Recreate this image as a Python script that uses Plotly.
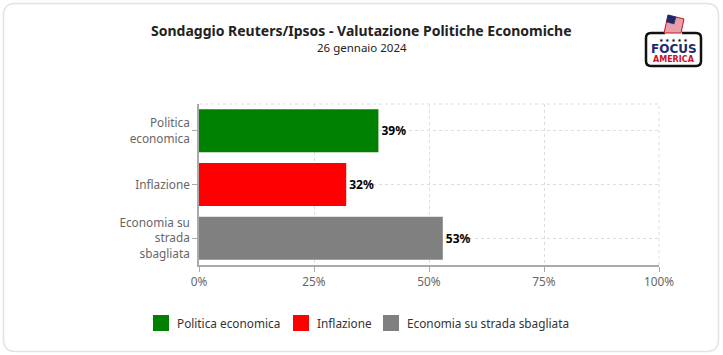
import plotly.graph_objects as go

categories = ["Politica economica", "Inflazione", "Economia su strada sbagliata"]
tick_labels = ["Politica<br>economica", "Inflazione", "Economia su<br>strada<br>sbagliata"]
values = [39, 32, 53]
colors = ["#008000", "#ff0000", "#808080"]
x_ticks = [0, 25, 50, 75, 100]
x_tick_text = ["0%", "25%", "50%", "75%", "100%"]

W, H = 723, 355
L, R, T, B = 199, 64, 104, 90
PW, PH = W - L - R, H - T - B


def px(x):
    return (x - L) / PW


def py(y):
    return (H - B - y) / PH


FONT = "Noto Sans"

fig = go.Figure()
for cat, lab, v, c in zip(categories, tick_labels, values, colors):
    fig.add_trace(go.Bar(
        x=[v], y=[lab], name=cat, orientation="h",
        marker=dict(color=c, line=dict(width=0)),
        text=[f"{v}%"], textposition="outside",
        textfont=dict(family=FONT, size=12, color="#000000", weight="bold"),
        cliponaxis=False, showlegend=False,
    ))

shapes = []
# card
x0, y0, x1, y1, r = 3.5, 3.5, 718.5, 351.5, 12
path = (f"M{px(x0 + r)},{py(y0)} L{px(x1 - r)},{py(y0)} Q{px(x1)},{py(y0)} {px(x1)},{py(y0 + r)} "
        f"L{px(x1)},{py(y1 - r)} Q{px(x1)},{py(y1)} {px(x1 - r)},{py(y1)} "
        f"L{px(x0 + r)},{py(y1)} Q{px(x0)},{py(y1)} {px(x0)},{py(y1 - r)} "
        f"L{px(x0)},{py(y0 + r)} Q{px(x0)},{py(y0)} {px(x0 + r)},{py(y0)} Z")
shapes.append(dict(type="path", xref="paper", yref="paper", path=path,
                   line=dict(color="#e3e3e3", width=1.5), fillcolor="rgba(0,0,0,0)", layer="below"))
# top / right dashed border of plot area
shapes.append(dict(type="line", xref="paper", yref="paper", x0=0, x1=1, y0=1, y1=1,
                   line=dict(color="#dddddd", width=1, dash="dot")))
shapes.append(dict(type="line", xref="paper", yref="paper", x0=1, x1=1, y0=0, y1=1,
                   line=dict(color="#dddddd", width=1, dash="dot")))

# logo box
bx0, by0, bx1, by1, br = 646, 33, 701, 66, 5
lp = (f"M{px(bx0 + br)},{py(by0)} L{px(665)},{py(by0)} M{px(682)},{py(by0)} L{px(bx1 - br)},{py(by0)} "
      f"Q{px(bx1)},{py(by0)} {px(bx1)},{py(by0 + br)} L{px(bx1)},{py(by1 - br)} "
      f"Q{px(bx1)},{py(by1)} {px(bx1 - br)},{py(by1)} L{px(bx0 + br)},{py(by1)} "
      f"Q{px(bx0)},{py(by1)} {px(bx0)},{py(by1 - br)} L{px(bx0)},{py(by0 + br)} "
      f"Q{px(bx0)},{py(by0)} {px(bx0 + br)},{py(by0)}")
shapes.append(dict(type="path", xref="paper", yref="paper", path=lp,
                   line=dict(color="#111111", width=2.5), fillcolor="rgba(0,0,0,0)"))
# flag ballot
fp = f"M{px(664)},{py(33)} L{px(668)},{py(15)} L{px(684)},{py(19)} L{px(681)},{py(33)} Z"
shapes.append(dict(type="path", xref="paper", yref="paper", path=fp,
                   line=dict(color="#c8102e", width=1), fillcolor="#e8a0a8"))
fp2 = f"M{px(668)},{py(15)} L{px(676)},{py(17)} L{px(674)},{py(24)} L{px(666.5)},{py(22)} Z"
shapes.append(dict(type="path", xref="paper", yref="paper", path=fp2,
                   line=dict(color="#1a2a6c", width=0.5), fillcolor="#1a2a6c"))

annotations = [
    dict(text="<b>Sondaggio Reuters/Ipsos - Valutazione Politiche Economiche</b>",
         xref="paper", yref="paper", x=px(361.5), y=py(30), xanchor="center", yanchor="middle",
         showarrow=False, font=dict(family=FONT, size=14, color="#222222")),
    dict(text="26 gennaio 2024",
         xref="paper", yref="paper", x=px(361.5), y=py(47), xanchor="center", yanchor="middle",
         showarrow=False, font=dict(family=FONT, size=11.5, color="#222222")),
    dict(text="★ ★ ★ ★ ★", xref="paper", yref="paper", x=px(673.5), y=py(40), xanchor="center",
         yanchor="middle", showarrow=False, font=dict(family="DejaVu Sans", size=5, color="#111111")),
    dict(text="<b>FOCUS</b>", xref="paper", yref="paper", x=px(673.5), y=py(49), xanchor="center",
         yanchor="middle", showarrow=False, font=dict(family="DejaVu Sans", size=12, color="#1a2a6c")),
    dict(text="<b>AMERICA</b>", xref="paper", yref="paper", x=px(673.5), y=py(60), xanchor="center",
         yanchor="middle", showarrow=False, font=dict(family="DejaVu Sans", size=8, color="#c8102e")),
]

# legend (drawn manually to match square size and spacing)
legend_sq_x = [153, 293, 383]
for cat, c, lx in zip(categories, colors, legend_sq_x):
    shapes.append(dict(type="rect", xref="paper", yref="paper",
                       x0=px(lx), x1=px(lx + 16), y0=py(331), y1=py(315),
                       fillcolor=c, line=dict(width=0)))
    annotations.append(dict(text=cat, xref="paper", yref="paper", x=px(lx + 22), y=py(323),
                            xanchor="left", yanchor="middle", showarrow=False,
                            font=dict(family=FONT, size=11.8, color="#333333")))

fig.update_layout(
    width=W, height=H,
    margin=dict(l=L, r=R, t=T, b=B, pad=0),
    paper_bgcolor="#ffffff", plot_bgcolor="#ffffff",
    barmode="overlay", bargap=0.2,
    showlegend=False,
    font=dict(family=FONT),
    shapes=shapes, annotations=annotations,
    xaxis=dict(range=[0, 100], tickvals=x_ticks, ticktext=x_tick_text,
               showgrid=True, gridcolor="#dddddd", griddash="dot", gridwidth=1,
               zeroline=False, showline=True, linecolor="#aaaaaa", linewidth=1.5,
               ticks="outside", ticklen=5, tickcolor="#aaaaaa",
               tickfont=dict(family=FONT, size=11.8, color="#666666"), fixedrange=True),
    yaxis=dict(categoryorder="array", categoryarray=tick_labels[::-1],
               showgrid=True, gridcolor="#dddddd", griddash="dot", gridwidth=1,
               zeroline=False, showline=True, linecolor="#aaaaaa", linewidth=1.5,
               ticks="outside", ticklen=5, tickcolor="#aaaaaa",
               tickfont=dict(family=FONT, size=11.8, color="#666666"), fixedrange=True),
)

fig.write_html("out.html", config={"displayModeBar": False},
               post_script="document.body.style.margin='0';document.body.style.padding='0';")
